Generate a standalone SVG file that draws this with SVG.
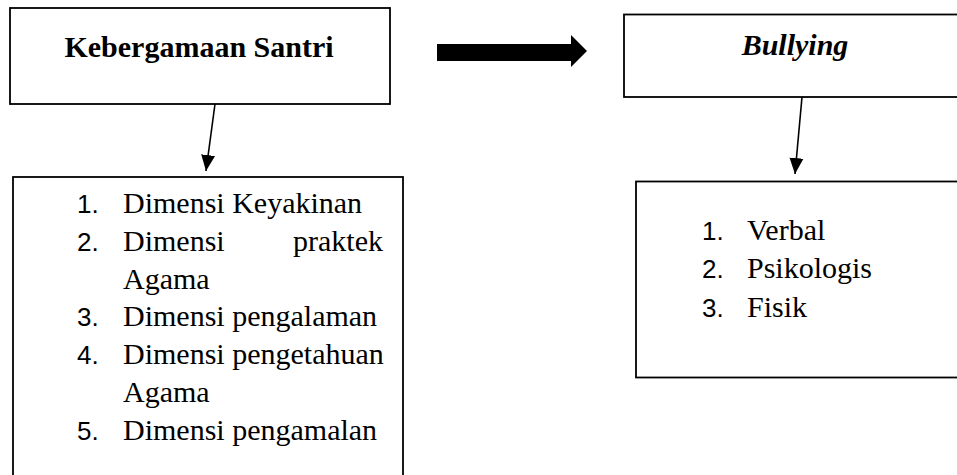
<svg xmlns="http://www.w3.org/2000/svg" width="957" height="475" viewBox="0 0 957 475">
<style>
.box{fill:#fff;stroke:#000;stroke-width:1.8}
.t{font-family:"Liberation Serif","Times New Roman",serif;font-size:30px;fill:#000}
.n{font-family:"Liberation Sans",Arial,sans-serif;font-size:26px;fill:#000}
.h{font-family:"Liberation Serif","Times New Roman",serif;font-size:30px;font-weight:bold;fill:#000}
.c{stroke:#000;stroke-width:1.6;fill:none}
</style>
<defs>
<marker id="ah" markerUnits="userSpaceOnUse" markerWidth="16" markerHeight="16" viewBox="0 0 16 16" refX="16" refY="8" orient="auto">
<path d="M0,1 L16,8 L0,15 Z" fill="#000"/>
</marker>
</defs>
<rect width="957" height="475" fill="#fff"/>
<g id="node-kebergamaan">
<rect class="box" x="10" y="8" width="380" height="96"/>
<text class="h" x="199" y="57" text-anchor="middle">Kebergamaan Santri</text>
</g>
<g id="node-bullying">
<rect class="box" x="624" y="14.5" width="360" height="82.5"/>
<text class="h" x="795" y="55" text-anchor="middle" font-style="italic">Bullying</text>
</g>
<g id="node-dimensi">
<rect class="box" x="13" y="177" width="390" height="320"/>
<text class="n" x="77" y="213">1.</text><text class="t" x="123" y="213">Dimensi Keyakinan</text>
<text class="n" x="77" y="251">2.</text><text class="t" x="123" y="251">Dimensi</text><text class="t" x="383" y="251" text-anchor="end">praktek</text>
<text class="t" x="123" y="289">Agama</text>
<text class="n" x="77" y="326">3.</text><text class="t" x="123" y="326">Dimensi pengalaman</text>
<text class="n" x="77" y="364">4.</text><text class="t" x="123" y="364">Dimensi pengetahuan</text>
<text class="t" x="123" y="402">Agama</text>
<text class="n" x="77" y="440">5.</text><text class="t" x="123" y="440">Dimensi pengamalan</text>
</g>
<g id="node-jenis">
<rect class="box" x="636" y="181.5" width="360" height="196"/>
<text class="n" x="702" y="240">1.</text><text class="t" x="747" y="240">Verbal</text>
<text class="n" x="702" y="278">2.</text><text class="t" x="747" y="278">Psikologis</text>
<text class="n" x="702" y="317">3.</text><text class="t" x="747" y="317">Fisik</text>
</g>
<g id="connectors">
<line class="c" x1="215" y1="104" x2="206" y2="171" marker-end="url(#ah)"/>
<line class="c" x1="802" y1="97" x2="795" y2="174" marker-end="url(#ah)"/>
<path d="M437,44 H571 V35 L587,51 L571,67 V61 H437 Z" fill="#000"/>
</g>
</svg>
